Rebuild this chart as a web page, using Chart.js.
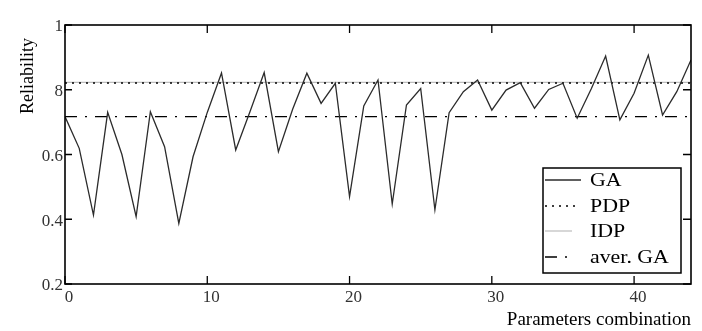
<!DOCTYPE html>
<html>
<head>
<meta charset="utf-8">
<script src="https://cdn.jsdelivr.net/npm/chart.js@4/dist/chart.umd.min.js"></script>
<style>
  html, body { margin: 0; padding: 0; background: #fff; }
</style>
</head>
<body>
<canvas id="chart" width="702" height="331"></canvas>
<script>
// data
const gaValues = [
  0.717, 0.619, 0.413, 0.730, 0.600, 0.408, 0.732, 0.624, 0.387, 0.593,
  0.730, 0.852, 0.614, 0.732, 0.853, 0.609, 0.740, 0.851, 0.758, 0.820,
  0.470, 0.750, 0.830, 0.447, 0.753, 0.804, 0.429, 0.729, 0.794, 0.830,
  0.737, 0.799, 0.822, 0.743, 0.801, 0.820, 0.712, 0.804, 0.904, 0.707,
  0.789, 0.907, 0.722, 0.794, 0.892
];
const xRange = [0, 44];
const pdpLevel = [0.821, 0.821];
const idpLevel = [0.823, 0.823];
const averGaLevel = [0.717, 0.717];

const xTicks = [0, 10, 20, 30, 40];
const xTickLabels = ["0", "10", "20", "30", "40"];
const yTicks = [0.2, 0.4, 0.6, 0.8, 1];
const yTickLabels = ["0.2", "0.4", "0.6", "8", "1"];

const seriesNames = ["GA", "PDP", "IDP", "aver. GA"];

const SERIF = '"Liberation Serif", "DejaVu Serif", serif';

const gaPoints = gaValues.map((v, i) => ({ x: i, y: v }));
const flat = lvl => xRange.map((x, i) => ({ x, y: lvl[i] }));

const styles = [
  { color: "#2b2b2b", width: 1.3, dash: [], len: 36 },
  { color: "#000", width: 1.4, dash: [2, 5], len: 31 },
  { color: "#bdbdbd", width: 1.2, dash: [], len: 27 },
  { color: "#000", width: 1.3, dash: [12, 8, 2, 8], len: 25 }
];

// frame, inner tick marks, y title and legend box
const frame = {
  id: "frame",
  afterDatasetsDraw(chart) {
    const { ctx, chartArea: a, scales: { x, y } } = chart;
    ctx.save();
    ctx.strokeStyle = "#000";
    ctx.lineWidth = 1.6;
    ctx.strokeRect(a.left, a.top, a.right - a.left, a.bottom - a.top);

    ctx.lineWidth = 1.3;
    ctx.beginPath();
    xTicks.forEach(v => {
      const px = x.getPixelForValue(v);
      ctx.moveTo(px, a.top); ctx.lineTo(px, a.top + 8);
      ctx.moveTo(px, a.bottom); ctx.lineTo(px, a.bottom - 8);
    });
    yTicks.forEach(v => {
      const py = y.getPixelForValue(v);
      ctx.moveTo(a.left, py); ctx.lineTo(a.left + 7, py);
      ctx.moveTo(a.right, py); ctx.lineTo(a.right - 8, py);
    });
    ctx.stroke();

    // y axis title
    ctx.save();
    ctx.translate(28, 76);
    ctx.rotate(-Math.PI / 2);
    ctx.font = "18px " + SERIF;
    ctx.fillStyle = "#000";
    ctx.textAlign = "center";
    ctx.textBaseline = "middle";
    ctx.fillText("Reliability", 0, 0);
    ctx.restore();

    // legend
    const bx = 543, by = 168, bw = 138, bh = 105;
    const rows = [180, 206, 231, 257];
    ctx.fillStyle = "#fff";
    ctx.fillRect(bx, by, bw, bh);
    ctx.lineWidth = 1.5;
    ctx.strokeStyle = "#000";
    ctx.strokeRect(bx, by, bw, bh);
    seriesNames.forEach((name, i) => {
      const ly = rows[i];
      const s = styles[i];
      ctx.beginPath();
      ctx.strokeStyle = s.color;
      ctx.lineWidth = s.width;
      ctx.setLineDash(s.dash);
      ctx.moveTo(bx + 2, ly);
      ctx.lineTo(bx + 2 + s.len, ly);
      ctx.stroke();
      ctx.setLineDash([]);
      // the reference text is a little wider than the font
      ctx.save();
      ctx.translate(bx + 47, ly + 1);
      ctx.scale(1.15, 1);
      ctx.font = "19px " + SERIF;
      ctx.textBaseline = "middle";
      ctx.textAlign = "left";
      ctx.fillStyle = "#000";
      ctx.fillText(name, 0, 0);
      ctx.restore();
    });
    ctx.restore();
  }
};

new Chart(document.getElementById("chart"), {
  type: "line",
  data: {
    datasets: [
      { label: seriesNames[0], data: gaPoints },
      { label: seriesNames[1], data: flat(pdpLevel) },
      { label: seriesNames[3], data: flat(averGaLevel) },
      { label: seriesNames[2], data: flat(idpLevel) }
    ].map(d => {
      const s = styles[seriesNames.indexOf(d.label)];
      return Object.assign(d, {
        borderColor: s.color,
        borderWidth: s.width,
        borderDash: s.dash,
        pointRadius: 0,
        tension: 0,
        fill: false
      });
    })
  },
  options: {
    responsive: false,
    animation: false,
    devicePixelRatio: 1,
    layout: { padding: { top: 25, right: 11, left: 0, bottom: 0 } },
    plugins: { legend: { display: false }, tooltip: { enabled: false } },
    scales: {
      x: {
        type: "linear",
        min: xRange[0],
        max: xRange[1],
        afterBuildTicks: s => { s.ticks = xTicks.map(v => ({ value: v })); },
        afterFit: s => { s.height = 47; },
        grid: { display: false, drawTicks: false },
        border: { display: false },
        ticks: {
          padding: 3,
          labelOffset: 4,
          color: "#333",
          font: { family: SERIF, size: 17 },
          callback: (v, i) => xTickLabels[i]
        },
        title: {
          display: true,
          text: "Parameters combination",
          align: "end",
          color: "#000",
          font: { family: SERIF, size: 19 },
          padding: { top: 0, bottom: 0 }
        }
      },
      y: {
        min: 0.2,
        max: 1,
        afterBuildTicks: s => { s.ticks = yTicks.map(v => ({ value: v })); },
        afterFit: s => { s.width = 65; },
        grid: { display: false, drawTicks: false },
        border: { display: false },
        ticks: {
          padding: 2,
          labelOffset: 2,
          color: "#333",
          font: { family: SERIF, size: 17 },
          callback: (v, i) => yTickLabels[i]
        }
      }
    }
  },
  plugins: [frame]
});
</script>
</body>
</html>
